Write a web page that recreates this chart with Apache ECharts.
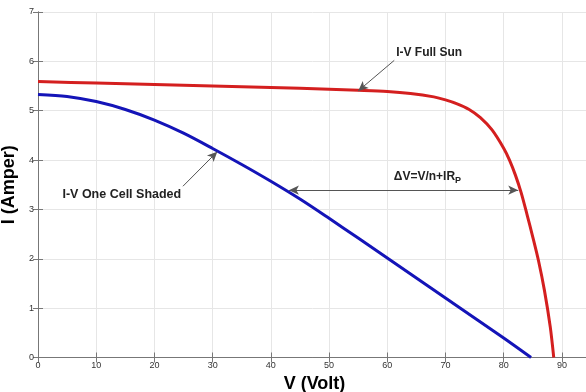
<!DOCTYPE html>
<html>
<head>
<meta charset="utf-8">
<script src="https://cdn.jsdelivr.net/npm/echarts@6/dist/echarts.min.js"></script>
<style>
  html, body { margin: 0; padding: 0; background: #fff; }
  #chart { width: 586px; height: 392px; }
</style>
</head>
<body>
<div id="chart"></div>
<script>
// I-V characteristic of a PV string: full irradiance vs. one shaded cell
const fullSunV = [0, 10, 20, 30, 40, 50, 55, 60, 64, 68, 70, 72, 74, 76, 78, 80, 81, 82, 83, 84, 85, 86, 87, 88, 88.6];
const fullSunI = [5.59, 5.56, 5.53, 5.50, 5.47, 5.435, 5.415, 5.39, 5.35, 5.28, 5.22, 5.14, 5.03, 4.86, 4.61, 4.24, 4.00, 3.70, 3.34, 2.90, 2.44, 1.95, 1.36, 0.62, 0];

const shadedV = [0, 5, 10, 15, 20, 25, 30, 35, 40, 45, 50, 55, 60, 65, 70, 75, 80, 84.7];
const shadedI = [5.33, 5.29, 5.185, 5.025, 4.81, 4.545, 4.235, 3.91, 3.57, 3.21, 2.82, 2.42, 2.015, 1.61, 1.205, 0.80, 0.395, 0];

const xTicks = { min: 0, max: 95, step: 10 };
const yTicks = { min: 0, max: 7, step: 1 };

const pairs = (xs, ys) => xs.map((x, i) => [x, ys[i]]);

const FONT = 'Liberation Sans, Arial, sans-serif';
const AXIS_COLOR = '#777';
const GRID_COLOR = '#e6e6e6';
const ARROW = { color: '#555', width: 1, type: 'solid' };

const chart = echarts.init(document.getElementById('chart'), null, { renderer: 'canvas' });

const baseX = {
  type: 'value', min: xTicks.min, max: xTicks.max, interval: xTicks.step,
  axisLine: { show: true, lineStyle: { color: AXIS_COLOR, width: 1 } },
  axisTick: { show: true, inside: true, length: 5, lineStyle: { color: AXIS_COLOR } }
};
const baseY = {
  type: 'value', min: yTicks.min, max: yTicks.max, interval: yTicks.step,
  axisLine: { show: true, lineStyle: { color: AXIS_COLOR, width: 1 } },
  axisTick: { show: true, inside: true, length: 5, lineStyle: { color: AXIS_COLOR } }
};

chart.setOption({
  animation: false,
  backgroundColor: '#fff',
  textStyle: { fontFamily: FONT },
  grid: { left: 38, top: 12, width: 553, height: 345.5, containLabel: false, outerBoundsMode: 'none' },
  xAxis: [
    Object.assign({}, baseX, {
      position: 'bottom',
      name: 'V (Volt)', nameLocation: 'middle', nameGap: 14,
      nameTextStyle: { fontSize: 18, fontWeight: 'bold', color: '#000', fontFamily: FONT },
      axisLabel: { fontSize: 9, color: '#333', margin: 4, showMaxLabel: false, fontFamily: FONT },
      splitLine: { show: true, lineStyle: { color: GRID_COLOR, width: 1 } }
    }),
    Object.assign({}, baseX, {
      position: 'top',
      axisLabel: { show: false },
      splitLine: { show: false }
    })
  ],
  yAxis: [
    Object.assign({}, baseY, {
      position: 'left',
      name: 'I (Amper)', nameLocation: 'middle', nameGap: 10,
      nameTextStyle: { fontSize: 18, fontWeight: 'bold', color: '#000', fontFamily: FONT },
      axisLabel: { fontSize: 9, color: '#333', margin: 4, fontFamily: FONT },
      splitLine: { show: true, lineStyle: { color: GRID_COLOR, width: 1 } }
    }),
    Object.assign({}, baseY, {
      position: 'right',
      axisLabel: { show: false },
      splitLine: { show: false }
    })
  ],
  series: [
    {
      name: 'I-V Full Sun',
      type: 'line',
      data: pairs(fullSunV, fullSunI),
      showSymbol: false,
      smooth: 0.3,
      lineStyle: { color: '#d41f1f', width: 3 },
      z: 3,
      markLine: {
        silent: true,
        symbol: ['none', 'arrow'],
        symbolSize: [7, 10],
        label: { show: false },
        lineStyle: ARROW,
        itemStyle: { color: '#111' },
        data: [
          [{ coord: [61.2, 6.02] }, { coord: [55.0, 5.40] }],
          [{ coord: [43.1, 3.39], symbol: 'arrow' }, { coord: [82.5, 3.39] }]
        ]
      },
      markPoint: {
        silent: true,
        symbol: 'circle', symbolSize: 0,
        label: { show: true, position: 'inside', color: '#222', fontWeight: 'bold', fontSize: 12, fontFamily: FONT },
        data: [
          { coord: [67.2, 6.17], label: { formatter: 'I-V Full Sun' } },
          {
            coord: [66.9, 3.66],
            label: {
              formatter: '{m|\u0394V=V/n+IR}{s|P}',
              rich: {
                m: { fontSize: 12, fontWeight: 'bold', color: '#222', fontFamily: FONT },
                s: { fontSize: 9, fontWeight: 'bold', color: '#222', fontFamily: FONT, padding: [7, 0, 0, 0] }
              }
            }
          }
        ]
      }
    },
    {
      name: 'I-V One Cell Shaded',
      type: 'line',
      data: pairs(shadedV, shadedI),
      showSymbol: false,
      smooth: 0.3,
      lineStyle: { color: '#1414b8', width: 3 },
      z: 3,
      markLine: {
        silent: true,
        symbol: ['none', 'arrow'],
        symbolSize: [7, 10],
        label: { show: false },
        lineStyle: ARROW,
        itemStyle: { color: '#111' },
        data: [
          [{ coord: [24.9, 3.47] }, { coord: [30.8, 4.17] }]
        ]
      },
      markPoint: {
        silent: true,
        symbol: 'circle', symbolSize: 0,
        label: { show: true, position: 'inside', color: '#222', fontWeight: 'bold', fontSize: 12.5, fontFamily: FONT },
        data: [
          { coord: [14.4, 3.30], label: { formatter: 'I-V One Cell Shaded' } }
        ]
      }
    }
  ]
});
</script>
</body>
</html>
